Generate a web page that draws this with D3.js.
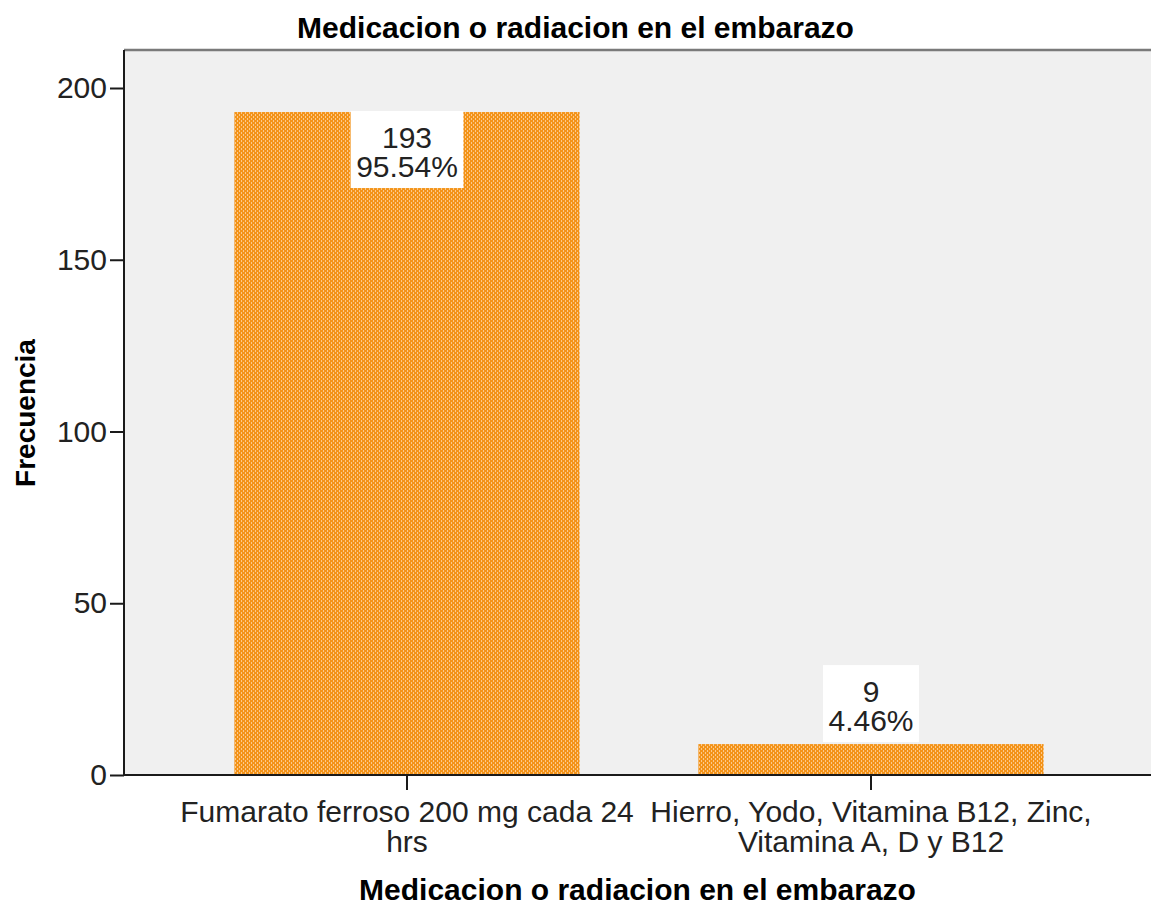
<!DOCTYPE html>
<html>
<head>
<meta charset="utf-8">
<script src="https://cdn.jsdelivr.net/npm/d3@7"></script>
<style>
  html, body { margin: 0; padding: 0; background: #fff; }
  svg { display: block; font-family: "Liberation Sans", Arial, sans-serif; }
</style>
</head>
<body>
<svg id="chart" width="1151" height="908"></svg>
<script>
// Frequencies of medication during pregnancy
const categories = [
  "Fumarato ferroso 200 mg cada 24 hrs",
  "Hierro, Yodo, Vitamina B12, Zinc, Vitamina A, D y B12"
];
const counts = [193, 9];
const percents = ["95.54%", "4.46%"];
const yTicks = [0, 50, 100, 150, 200];
const chartTitle = "Medicacion o radiacion en el embarazo";
const xTitle = "Medicacion o radiacion en el embarazo";
const yTitle = "Frecuencia";

const W = 1151, H = 908;
const plot = { left: 124, top: 50, right: 1151, bottom: 775 };
const svg = d3.select("#chart");

// Dotted orange fill used for bars
const defs = svg.append("defs");
const pat = defs.append("pattern")
  .attr("id", "dots").attr("patternUnits", "userSpaceOnUse")
  .attr("width", 4).attr("height", 4);
pat.append("rect").attr("width", 4).attr("height", 4).attr("fill", "#f39318");
pat.append("rect").attr("x", 1).attr("y", 0).attr("width", 1).attr("height", 2).attr("fill", "#fcc98c");
pat.append("rect").attr("x", 3).attr("y", 2).attr("width", 1).attr("height", 2).attr("fill", "#fcc98c");

const x = d3.scaleBand()
  .domain(categories)
  .range([175, 1103])
  .paddingInner(0.256)
  .paddingOuter(0.128);

const y = d3.scaleLinear()
  .domain([0, 200])
  .range([775, 88]);

// Plot background
svg.append("rect")
  .attr("x", plot.left).attr("y", plot.top)
  .attr("width", plot.right - plot.left).attr("height", plot.bottom - plot.top)
  .attr("fill", "#f0f0f0");
svg.append("line")
  .attr("x1", plot.left).attr("x2", plot.right)
  .attr("y1", plot.top).attr("y2", plot.top)
  .attr("stroke", "#7a7a7a").attr("stroke-width", 2.5);

// Bars
svg.append("g").selectAll("rect")
  .data(categories)
  .join("rect")
  .attr("x", d => x(d))
  .attr("width", x.bandwidth())
  .attr("y", (d, i) => y(counts[i]))
  .attr("height", (d, i) => y(0) - y(counts[i]))
  .attr("fill", "url(#dots)");

// Y axis
const yAxis = svg.append("g")
  .attr("transform", `translate(${plot.left},0)`)
  .call(d3.axisLeft(y).tickValues(yTicks).tickSize(14).tickPadding(3).tickFormat(d3.format("d")));
yAxis.select(".domain").attr("d", `M0,${plot.top}V${plot.bottom}`).attr("stroke", "#1a1a1a").attr("stroke-width", 2);
yAxis.selectAll(".tick line").attr("stroke", "#1a1a1a").attr("stroke-width", 2);
yAxis.selectAll(".tick text").attr("font-size", 30).attr("fill", "#222").attr("font-family", "Liberation Sans, Arial, sans-serif");

// X axis
const xAxis = svg.append("g")
  .attr("transform", `translate(0,${plot.bottom})`)
  .call(d3.axisBottom(x).tickSize(15).tickFormat(""));
xAxis.select(".domain").attr("d", `M${plot.left},0H${plot.right}`).attr("stroke", "#1a1a1a").attr("stroke-width", 2);
xAxis.selectAll(".tick line").attr("stroke", "#1a1a1a").attr("stroke-width", 2);

// Wrapped category labels
function wrapLines(text, maxW, measure) {
  const words = text.split(" ");
  const lines = [];
  let cur = "";
  words.forEach(w => {
    const t = cur ? cur + " " + w : w;
    if (cur && measure(t) > maxW) { lines.push(cur); cur = w; }
    else cur = t;
  });
  if (cur) lines.push(cur);
  return lines;
}
const probe = svg.append("text").attr("font-size", 30).attr("visibility", "hidden");
const measure = s => { probe.text(s); return probe.node().getComputedTextLength(); };

const catG = svg.append("g");
categories.forEach(c => {
  const lines = wrapLines(c, x.step() - 4, measure);
  const t = catG.append("text")
    .attr("x", x(c) + x.bandwidth() / 2)
    .attr("y", 822)
    .attr("text-anchor", "middle")
    .attr("font-size", 30)
    .attr("fill", "#222");
  lines.forEach((ln, k) => {
    t.append("tspan").attr("x", x(c) + x.bandwidth() / 2).attr("dy", k ? 30 : 0).text(ln);
  });
});
probe.remove();

// Value labels in white boxes
const lblG = svg.append("g");
categories.forEach((c, i) => {
  const cx = x(c) + x.bandwidth() / 2;
  const g = lblG.append("g");
  const box = g.append("rect").attr("fill", "#fff");
  const t = g.append("text").attr("text-anchor", "middle").attr("font-size", 30).attr("fill", "#222");
  t.append("tspan").attr("x", cx).attr("dy", 0).text(counts[i]);
  t.append("tspan").attr("x", cx).attr("dy", 29).text(percents[i]);
  const bb = t.node().getBBox();
  const boxH = 77, boxW = bb.width + 11;
  const barTop = y(counts[i]);
  const barH = y(0) - barTop;
  const boxTop = barH > boxH + 10 ? barTop - 1 : barTop - boxH - 2;
  box.attr("x", cx - boxW / 2).attr("y", boxTop).attr("width", boxW).attr("height", boxH);
  t.attr("transform", `translate(0,${boxTop + 37})`);
});

// Titles
svg.append("text")
  .attr("x", W / 2).attr("y", 38)
  .attr("text-anchor", "middle")
  .attr("font-size", 30).attr("font-weight", "bold").attr("fill", "#000")
  .text(chartTitle);

svg.append("text")
  .attr("x", (plot.left + plot.right) / 2).attr("y", 900)
  .attr("text-anchor", "middle")
  .attr("font-size", 30).attr("font-weight", "bold").attr("fill", "#000")
  .text(xTitle);

svg.append("text")
  .attr("transform", `translate(35,${413}) rotate(-90)`)
  .attr("text-anchor", "middle")
  .attr("font-size", 28).attr("font-weight", "bold").attr("fill", "#000")
  .text(yTitle);
</script>
</body>
</html>
